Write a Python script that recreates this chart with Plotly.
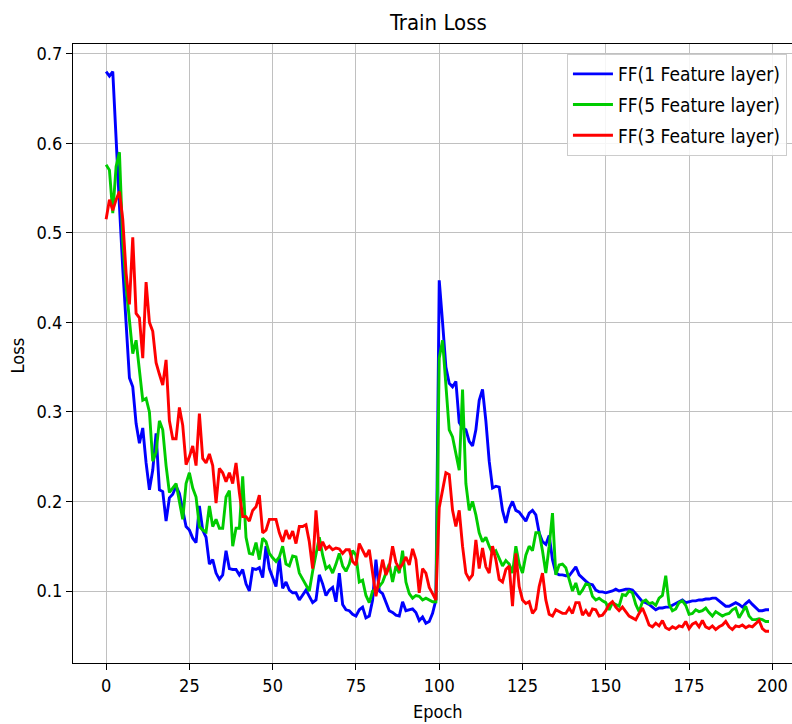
import plotly.graph_objects as go

epochs = list(range(200))

ff1 = [0.680, 0.675, 0.680, 0.600, 0.530, 0.460, 0.395, 0.338, 0.328, 0.287,
       0.265, 0.282, 0.243, 0.213, 0.235, 0.276, 0.213, 0.211, 0.178, 0.204,
       0.208, 0.217, 0.209, 0.191, 0.172, 0.168, 0.159, 0.154, 0.195, 0.168,
       0.160, 0.130, 0.135, 0.120, 0.113, 0.118, 0.145, 0.125, 0.124, 0.124,
       0.118, 0.124, 0.108, 0.100, 0.125, 0.124, 0.126, 0.115, 0.150, 0.125,
       0.115, 0.105, 0.137, 0.103, 0.110, 0.101, 0.098, 0.098, 0.090, 0.095,
       0.101, 0.094, 0.087, 0.090, 0.118, 0.108, 0.095, 0.101, 0.104, 0.088,
       0.120, 0.085, 0.079, 0.078, 0.074, 0.072, 0.079, 0.082, 0.070, 0.072,
       0.090, 0.135, 0.100, 0.097, 0.088, 0.078, 0.076, 0.073, 0.072, 0.088,
       0.078, 0.079, 0.080, 0.076, 0.067, 0.071, 0.064, 0.066, 0.075, 0.090,
       0.447, 0.400, 0.350, 0.332, 0.328, 0.334, 0.288, 0.282, 0.280, 0.267,
       0.262, 0.280, 0.313, 0.325, 0.290, 0.245, 0.215, 0.217, 0.216, 0.190,
       0.176, 0.192, 0.200, 0.190, 0.188, 0.183, 0.178, 0.187, 0.190, 0.185,
       0.165, 0.155, 0.152, 0.162, 0.135, 0.120, 0.118, 0.118, 0.117, 0.117,
       0.122, 0.127, 0.118, 0.114, 0.111, 0.108, 0.107, 0.101, 0.099, 0.099,
       0.098, 0.099, 0.100, 0.102, 0.100, 0.101, 0.102, 0.102, 0.101, 0.097,
       0.092, 0.088, 0.087, 0.085, 0.082, 0.079, 0.081, 0.081, 0.082, 0.082,
       0.084, 0.086, 0.088, 0.090, 0.087, 0.088, 0.089, 0.089, 0.090, 0.090,
       0.091, 0.091, 0.092, 0.092, 0.089, 0.086, 0.083, 0.083, 0.085, 0.087,
       0.085, 0.082, 0.086, 0.089, 0.085, 0.081, 0.078, 0.078, 0.079, 0.079]

ff5 = [0.576, 0.570, 0.522, 0.574, 0.590, 0.490, 0.440, 0.400, 0.365, 0.380,
       0.345, 0.313, 0.315, 0.300, 0.245, 0.255, 0.290, 0.280, 0.240, 0.210,
       0.215, 0.220, 0.200, 0.180, 0.220, 0.232, 0.215, 0.205, 0.172, 0.168,
       0.166, 0.195, 0.172, 0.180, 0.170, 0.170, 0.205, 0.212, 0.150, 0.170,
       0.170, 0.228, 0.160, 0.142, 0.141, 0.154, 0.135, 0.159, 0.155, 0.142,
       0.137, 0.133, 0.138, 0.150, 0.130, 0.128, 0.139, 0.138, 0.120, 0.113,
       0.107, 0.100, 0.122, 0.140, 0.160, 0.140, 0.125, 0.128, 0.120, 0.130,
       0.142, 0.128, 0.122, 0.130, 0.145, 0.140, 0.110, 0.112, 0.095, 0.087,
       0.100, 0.102, 0.105, 0.110, 0.120, 0.130, 0.110, 0.128, 0.120, 0.145,
       0.110, 0.097, 0.092, 0.095, 0.094, 0.090, 0.092, 0.090, 0.088, 0.088,
       0.360, 0.380, 0.328, 0.280, 0.272, 0.255, 0.235, 0.325, 0.220, 0.190,
       0.200, 0.185, 0.165, 0.155, 0.160, 0.150, 0.142, 0.145, 0.136, 0.128,
       0.134, 0.130, 0.120, 0.150, 0.130, 0.120, 0.140, 0.150, 0.145, 0.165,
       0.165, 0.145, 0.120, 0.150, 0.187, 0.118, 0.129, 0.130, 0.126, 0.113,
       0.100, 0.109, 0.096, 0.101, 0.108, 0.107, 0.094, 0.090, 0.092, 0.089,
       0.087, 0.079, 0.087, 0.085, 0.083, 0.096, 0.095, 0.100, 0.098, 0.085,
       0.077, 0.088, 0.090, 0.086, 0.087, 0.084, 0.092, 0.095, 0.117, 0.085,
       0.078, 0.080, 0.087, 0.089, 0.084, 0.074, 0.075, 0.079, 0.077, 0.078,
       0.081, 0.076, 0.072, 0.077, 0.074, 0.072, 0.074, 0.075, 0.079, 0.081,
       0.070, 0.077, 0.083, 0.072, 0.068, 0.068, 0.069, 0.068, 0.066, 0.066]

ff3 = [0.515, 0.537, 0.525, 0.537, 0.546, 0.515, 0.455, 0.420, 0.495, 0.410,
       0.405, 0.360, 0.445, 0.400, 0.390, 0.355, 0.342, 0.330, 0.358, 0.290,
       0.270, 0.270, 0.305, 0.285, 0.241, 0.250, 0.262, 0.240, 0.298, 0.248,
       0.243, 0.253, 0.240, 0.198, 0.237, 0.232, 0.222, 0.232, 0.220, 0.243,
       0.210, 0.183, 0.183, 0.178, 0.190, 0.194, 0.207, 0.165, 0.168, 0.180,
       0.180, 0.180, 0.165, 0.155, 0.168, 0.158, 0.167, 0.153, 0.172, 0.172,
       0.174, 0.155, 0.125, 0.190, 0.145, 0.155, 0.147, 0.150, 0.146, 0.148,
       0.147, 0.142, 0.146, 0.146, 0.133, 0.129, 0.153, 0.145, 0.138, 0.146,
       0.120, 0.094, 0.115, 0.135, 0.118, 0.127, 0.150, 0.132, 0.125, 0.130,
       0.138, 0.129, 0.147, 0.135, 0.098, 0.125, 0.120, 0.104, 0.097, 0.090,
       0.193, 0.215, 0.232, 0.230, 0.190, 0.172, 0.190, 0.150, 0.120, 0.113,
       0.118, 0.157, 0.125, 0.148, 0.127, 0.120, 0.150, 0.135, 0.113, 0.110,
       0.124, 0.128, 0.083, 0.142, 0.105, 0.090, 0.086, 0.088, 0.075, 0.080,
       0.105, 0.120, 0.090, 0.074, 0.072, 0.079, 0.077, 0.075, 0.075, 0.081,
       0.075, 0.087, 0.087, 0.073, 0.078, 0.072, 0.080, 0.079, 0.072, 0.073,
       0.078, 0.085, 0.088, 0.082, 0.078, 0.082, 0.077, 0.072, 0.070, 0.068,
       0.075, 0.081, 0.072, 0.062, 0.060, 0.064, 0.061, 0.067, 0.059, 0.057,
       0.060, 0.058, 0.061, 0.060, 0.066, 0.058, 0.063, 0.065, 0.060, 0.067,
       0.060, 0.058, 0.061, 0.057, 0.060, 0.062, 0.066, 0.060, 0.057, 0.061,
       0.060, 0.062, 0.059, 0.061, 0.060, 0.064, 0.067, 0.058, 0.055, 0.055]

names = ["FF(1 Feature layer)", "FF(5 Feature layer)", "FF(3 Feature layer)"]
colors = ["#0000ff", "#00cc00", "#ff0000"]
series = [ff1, ff5, ff3]

x_ticks = [0, 25, 50, 75, 100, 125, 150, 175, 200]
y_ticks = [0.1, 0.2, 0.3, 0.4, 0.5, 0.6, 0.7]

FONT = "DejaVu Sans Condensed, DejaVu Sans, sans-serif"

fig = go.Figure()
for name, col, ys in zip(names, colors, series):
    fig.add_trace(go.Scatter(x=epochs, y=ys, mode="lines", name=name,
                             legendgroup=name,
                             line=dict(color=col, width=2.9)))

W, H = 792, 724
left, top, bottom = 73.4, 44, 60.7

fig.update_layout(
    width=W, height=H,
    margin=dict(l=left, r=0, t=top, b=bottom, pad=0),
    paper_bgcolor="white", plot_bgcolor="white",
    font=dict(family=FONT, size=18, color="#000000"),
    showlegend=True,
    legend=dict(x=0.687, y=1 - (54 - 44) / 619.3, xanchor="left", yanchor="top",
                bgcolor="rgba(255,255,255,0.85)", bordercolor="#cccccc",
                borderwidth=1, font=dict(family=FONT, size=19),
                traceorder="grouped", tracegroupgap=3,
                itemwidth=40),
    xaxis=dict(range=[-9.94, 205.9], tickvals=x_ticks,
               ticktext=[str(v) for v in x_ticks],
               showgrid=True, gridcolor="#c0c0c0", gridwidth=1.3,
               zeroline=False, showline=True, linecolor="#000000",
               linewidth=1.3, mirror=True, ticks="outside", ticklen=6,
               tickwidth=1.3, tickcolor="#000000"),
    yaxis=dict(range=[0.0196, 0.7108], tickvals=y_ticks,
               ticktext=["%.1f" % v for v in y_ticks],
               showgrid=True, gridcolor="#c0c0c0", gridwidth=1.3,
               zeroline=False, showline=True, linecolor="#000000",
               linewidth=1.3, ticks="outside", ticklen=6,
               tickwidth=1.3, tickcolor="#000000"),
    annotations=[
        dict(text="Train Loss", xref="paper", yref="paper", x=0.507,
             y=1 + 22 / 619.3, xanchor="center", yanchor="middle",
             showarrow=False, font=dict(family=FONT, size=22)),
        dict(text="Epoch", xref="paper", yref="paper", x=0.507,
             y=-(712 - 663.3) / 619.3, xanchor="center", yanchor="middle",
             showarrow=False, font=dict(family=FONT, size=18)),
        dict(text="Loss", xref="paper", yref="paper", x=(18 - 73.4) / 718.6,
             y=(663.3 - 356) / 619.3, xanchor="center", yanchor="middle",
             textangle=-90, showarrow=False, font=dict(family=FONT, size=18)),
    ],
)

fig.write_html("out.html")
